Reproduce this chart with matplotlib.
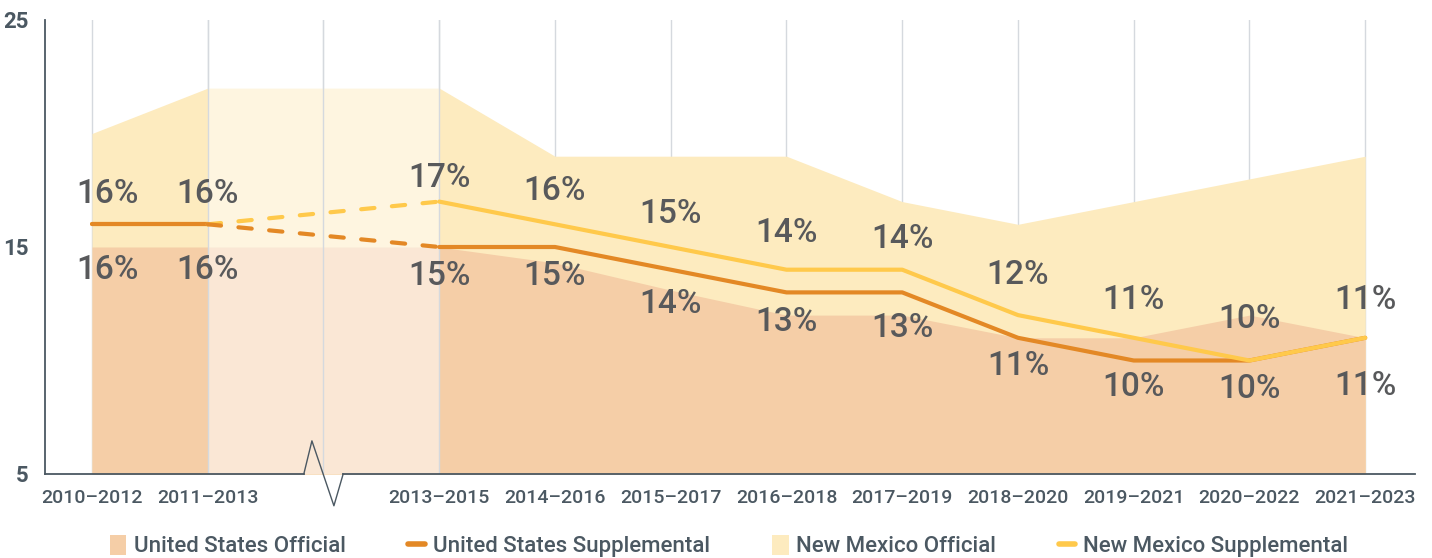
import numpy as np
import matplotlib
matplotlib.use("Agg")
import matplotlib.pyplot as plt
from matplotlib.patches import Patch
from matplotlib.lines import Line2D
import matplotlib.transforms as mtransforms

# ---------------- data ----------------
categories = ['2010–2012', '2011–2013', '', '2013–2015', '2014–2016', '2015–2017',
              '2016–2018', '2017–2019', '2018–2020', '2019–2021', '2020–2022', '2021–2023']
us_official = [15, 15, np.nan, 15, 14.3, 13.1, 12, 12, 11, 11, 12, 11]
nm_official = [20, 22, np.nan, 22, 19, 19, 19, 17, 16, 17, 18, 19]
us_supplemental = [16, 16, np.nan, 15, 15, 14, 13, 13, 11, 10, 10, 11]
nm_supplemental = [16, 16, np.nan, 17, 16, 15, 14, 14, 12, 11, 10, 11]
yticks = [5, 15, 25]
gap_index = 2

# ---------------- style ----------------
C_US_OFF = '#F5CEA7'
C_NM_OFF = '#FDEBBF'
C_US_SUP = '#E38825'
C_NM_SUP = '#FFC94B'
C_LABEL = '#58595B'
C_AXIS = '#4B5862'
C_GRID = '#D5D9DE'
FONT = ['Roboto', 'DejaVu Sans']
plt.rcParams['font.family'] = FONT

fig = plt.figure(figsize=(14.32, 5.58), dpi=100)
ax = fig.add_axes([45 / 1432, 1 - 474 / 558, (1415 - 45) / 1432, (474 - 20) / 558])

x = np.arange(len(categories))
valid = ~np.isnan(np.array(us_official, dtype=float))
xv = x[valid]

ax.set_ylim(5, 25)
ax.set_xlim(-0.406, 11.43)

# fills
ax.fill_between(xv, 5, np.array(nm_official, dtype=float)[valid], color=C_NM_OFF, lw=0, zorder=1)
ax.fill_between(xv, 5, np.array(us_official, dtype=float)[valid], color=C_US_OFF, lw=0, zorder=1.1)

# gridlines
for xi in x:
    ax.axvline(xi, color=C_GRID, lw=1, zorder=0.5)

# lighter band over missing period
ax.axvspan(gap_index - 1, gap_index + 1, ymin=0, ymax=1, color='white', alpha=0.53, lw=0, zorder=1.5)
for xi in (gap_index - 1, gap_index, gap_index + 1):
    ax.axvline(xi, color=C_GRID, lw=1, zorder=1.6)

# lines
us = np.array(us_supplemental, dtype=float)
nm = np.array(nm_supplemental, dtype=float)
lw = 3.0
ax.plot(x[:gap_index], nm[:gap_index], color=C_NM_SUP, lw=lw, solid_capstyle='round', zorder=2)
ax.plot(x[:gap_index], us[:gap_index], color=C_US_SUP, lw=lw, solid_capstyle='round', zorder=3)
for arr, col in ((nm, C_NM_SUP), (us, C_US_SUP)):
    ax.plot([gap_index - 1, gap_index + 1], [arr[gap_index - 1], arr[gap_index + 1]],
            color=col, lw=lw, dashes=(3.2, 4.2), dash_capstyle='round', zorder=3)
ax.plot(x[gap_index + 1:], us[gap_index + 1:], color=C_US_SUP, lw=lw,
        solid_capstyle='round', solid_joinstyle='round', zorder=3)
ax.plot(x[gap_index + 1:], nm[gap_index + 1:], color=C_NM_SUP, lw=lw,
        solid_capstyle='round', solid_joinstyle='round', zorder=4)

# data labels (pixel offsets of label centres)
up_dy = [30, 30, 0, 24, 33, 33, 37, 31, 40, 38, 41, 38]
lo_dy = [46, 46, 0, 29, 29, 34, 30, 36, 28, 26, 28, 48]
for i in xv:
    dx = 16 if i == 0 else 0
    ax.annotate(f'{nm[i]:.0f}%', (i, nm[i]), xytext=(dx, up_dy[i]), textcoords='offset pixels',
                ha='center', va='center', fontsize=24, color=C_LABEL, fontweight='medium', zorder=5)
    ax.annotate(f'{us[i]:.0f}%', (i, us[i]), xytext=(dx, -lo_dy[i]), textcoords='offset pixels',
                ha='center', va='center', fontsize=24, color=C_LABEL, fontweight='medium', zorder=5)

# axes styling
for s in ('top', 'right', 'bottom'):
    ax.spines[s].set_visible(False)
ax.spines['left'].set_color(C_AXIS)
ax.spines['left'].set_linewidth(1.3)
ax.set_yticks(yticks)
ax.set_yticklabels([str(v) for v in yticks], fontsize=16, fontweight='bold', color=C_AXIS)
ax.set_xticks(x)
ax.set_xticklabels(categories, fontsize=14, fontweight='medium', color=C_AXIS)
ax.tick_params(axis='both', length=0)
ax.tick_params(axis='x', pad=11)
ax.tick_params(axis='y', pad=12)

# broken bottom axis with zigzag
trans = mtransforms.blended_transform_factory(ax.transData, ax.transAxes)
xl = ax.get_xlim()
ax.plot([xl[0], 1.83], [0, 0], color=C_AXIS, lw=1.3, transform=trans, clip_on=False, zorder=6)
ax.plot([1.83, 1.90, 2.09, 2.17], [0, 0.073, -0.070, 0], color=C_AXIS, lw=1.0,
        transform=trans, clip_on=False, zorder=6)
ax.plot([2.17, xl[1]], [0, 0], color=C_AXIS, lw=1.3, transform=trans, clip_on=False, zorder=6)

# legend
handles = [Patch(facecolor=C_US_OFF, edgecolor='none'),
           Line2D([], [], color=C_US_SUP, lw=4, solid_capstyle='round'),
           Patch(facecolor=C_NM_OFF, edgecolor='none'),
           Line2D([], [], color=C_NM_SUP, lw=4, solid_capstyle='round')]
labels = ['United States Official', 'United States Supplemental',
          'New Mexico Official', 'New Mexico Supplemental']
leg = fig.legend(handles, labels, loc='center', bbox_to_anchor=(0.509, 1 - 546 / 558), ncol=4,
                 frameon=False, fontsize=16, handlelength=0.75, handleheight=1.0,
                 handletextpad=0.35, columnspacing=2.8, borderaxespad=0)
for t in leg.get_texts():
    t.set_color(C_AXIS)
    t.set_fontweight('medium')

fig.savefig('out.png', dpi=100)
